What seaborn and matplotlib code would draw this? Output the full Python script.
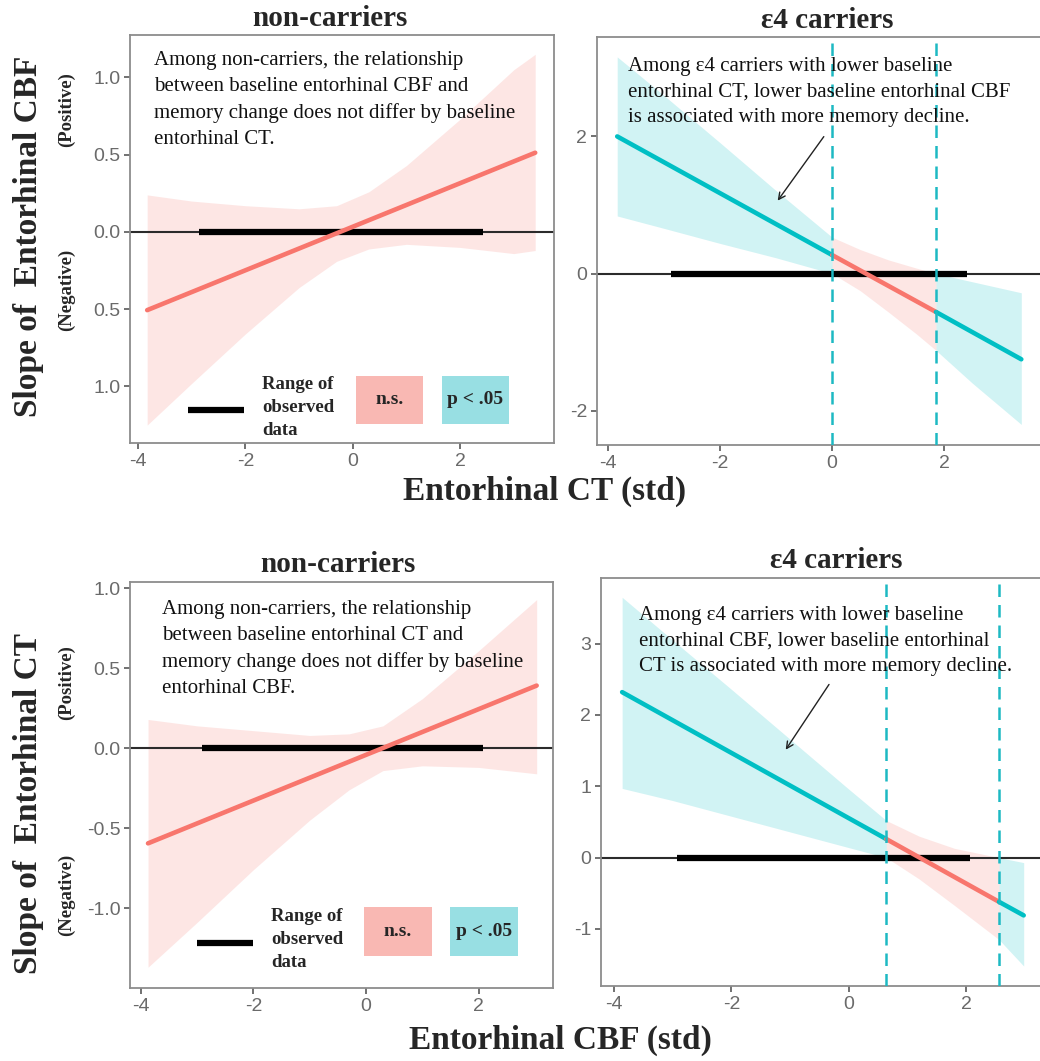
import matplotlib
matplotlib.use("Agg")
import matplotlib.pyplot as plt
import seaborn as sns
import numpy as np
from matplotlib.patches import Rectangle
from matplotlib.lines import Line2D

# ---------------- data ----------------
# Top-left: non-carriers, slope of entorhinal CBF vs entorhinal CT
tl_line_x = [-3.83, 3.40]
tl_line_y = [-0.506, 0.513]
tl_band_x = [-3.83, -3.0, -2.0, -1.0, -0.3, 0.3, 1.0, 2.0, 3.0, 3.40]
tl_band_lo = [-1.25, -0.98, -0.66, -0.36, -0.19, -0.11, -0.08, -0.10, -0.14, -0.12]
tl_band_hi = [0.24, 0.20, 0.17, 0.15, 0.17, 0.26, 0.43, 0.73, 1.05, 1.15]
tl_range = [-2.87, 2.43]
tl_jn = []
tl_yticks = [1.0, 0.5, 0.0, -0.5, -1.0]
tl_yticklabels = ["1.0", "0.5", "0.0", "0.5", "1.0"]

# Top-right: e4 carriers, slope of entorhinal CBF vs entorhinal CT
tr_line_x = [-3.83, 0.0, 1.85, 3.37]
tr_line_y = [2.00, 0.27, -0.56, -1.25]
tr_band_x = [-3.83, -3.0, -2.0, -1.0, 0.0, 0.5, 1.0, 1.5, 1.85, 2.5, 3.37]
tr_band_lo = [0.84, 0.66, 0.44, 0.23, 0.00, -0.25, -0.56, -0.88, -1.12, -1.60, -2.20]
tr_band_hi = [3.16, 2.60, 1.91, 1.21, 0.53, 0.35, 0.20, 0.08, 0.00, -0.12, -0.28]
tr_range = [-2.88, 2.40]
tr_jn = [0.0, 1.85]
tr_yticks = [2, 0, -2]
tr_yticklabels = ["2", "0", "-2"]

# Bottom-left: non-carriers, slope of entorhinal CT vs entorhinal CBF
bl_line_x = [-3.87, 3.03]
bl_line_y = [-0.595, 0.392]
bl_band_x = [-3.87, -3.0, -2.0, -1.0, -0.3, 0.3, 1.0, 2.0, 3.03]
bl_band_lo = [-1.37, -1.09, -0.76, -0.45, -0.26, -0.14, -0.11, -0.12, -0.16]
bl_band_hi = [0.18, 0.14, 0.11, 0.08, 0.09, 0.14, 0.31, 0.61, 0.93]
bl_range = [-2.91, 2.07]
bl_jn = []
bl_yticks = [1.0, 0.5, 0.0, -0.5, -1.0]
bl_yticklabels = ["1.0", "0.5", "0.0", "-0.5", "-1.0"]

# Bottom-right: e4 carriers, slope of entorhinal CT vs entorhinal CBF
br_line_x = [-3.86, 0.64, 2.56, 2.98]
br_line_y = [2.32, 0.26, -0.62, -0.81]
br_band_x = [-3.86, -3.0, -2.0, -1.0, 0.0, 0.64, 1.2, 1.8, 2.56, 2.98]
br_band_lo = [0.97, 0.80, 0.58, 0.36, 0.14, 0.00, -0.30, -0.67, -1.15, -1.52]
br_band_hi = [3.65, 3.05, 2.36, 1.66, 0.96, 0.52, 0.30, 0.13, 0.00, -0.07]
br_range = [-2.93, 2.06]
br_jn = [0.64, 2.56]
br_yticks = [3, 2, 1, 0, -1]
br_yticklabels = ["3", "2", "1", "0", "-1"]

xticks = [-4, -2, 0, 2]
xticklabels = ["-4", "-2", "0", "2"]

titles = ["non-carriers", "\u03b54 carriers", "non-carriers", "\u03b54 carriers"]
notes = [
    "Among non-carriers, the relationship\nbetween baseline entorhinal CBF and\nmemory change does not differ by baseline\nentorhinal CT.",
    "Among \u03b54 carriers with lower baseline\nentorhinal CT, lower baseline entorhinal CBF\nis associated with more memory decline.",
    "Among non-carriers, the relationship\nbetween baseline entorhinal CT and\nmemory change does not differ by baseline\nentorhinal CBF.",
    "Among \u03b54 carriers with lower baseline\nentorhinal CBF, lower baseline entorhinal\nCT is associated with more memory decline.",
]
ylabels = ["Slope of  Entorhinal CBF", "Slope of  Entorhinal CT"]
xlabels = ["Entorhinal CT (std)", "Entorhinal CBF (std)"]

# ---------------- style ----------------
sns.set_theme(style="white")
plt.rcParams["font.family"] = ["Liberation Sans", "DejaVu Sans"]
SERIF = ["Liberation Serif", "DejaVu Serif"]

RED = "#F8766D"
TEAL = "#00BFC4"
W, H = 1040, 1061

fig = plt.figure(figsize=(W / 100, H / 100), dpi=100)
fig.patch.set_facecolor("white")


def fx(px):
    return px / W


def fy(py):
    return 1 - py / H


def add_ax(left, right, top, bottom):
    return fig.add_axes([fx(left), fy(bottom), (right - left) / W, (bottom - top) / H])


panels = [
    dict(box=(130, 554, 35, 443), xlim=(-4.15, 3.75), ylim=(-1.366, 1.275),
         lx=tl_line_x, ly=tl_line_y, bx=tl_band_x, lo=tl_band_lo, hi=tl_band_hi,
         rng=tl_range, jn=tl_jn, yt=tl_yticks, ytl=tl_yticklabels),
    dict(box=(597, 1046, 37, 445), xlim=(-4.19, 3.81), ylim=(-2.50, 3.45),
         lx=tr_line_x, ly=tr_line_y, bx=tr_band_x, lo=tr_band_lo, hi=tr_band_hi,
         rng=tr_range, jn=tr_jn, yt=tr_yticks, ytl=tr_yticklabels),
    dict(box=(130, 553, 582, 988), xlim=(-4.19, 3.32), ylim=(-1.50, 1.04),
         lx=bl_line_x, ly=bl_line_y, bx=bl_band_x, lo=bl_band_lo, hi=bl_band_hi,
         rng=bl_range, jn=bl_jn, yt=bl_yticks, ytl=bl_yticklabels),
    dict(box=(601, 1046, 578, 986), xlim=(-4.22, 3.36), ylim=(-1.80, 3.92),
         lx=br_line_x, ly=br_line_y, bx=br_band_x, lo=br_band_lo, hi=br_band_hi,
         rng=br_range, jn=br_jn, yt=br_yticks, ytl=br_yticklabels),
]

axes = []
for p in panels:
    ax = add_ax(*p["box"])
    axes.append(ax)
    bx = np.array(p["bx"])
    lo = np.array(p["lo"])
    hi = np.array(p["hi"])
    lx = np.array(p["lx"])
    ly = np.array(p["ly"])
    xmin, xmax = bx.min(), bx.max()
    if p["jn"]:
        a, b = p["jn"]
        segs = [(xmin, a, TEAL), (a, b, RED), (b, xmax, TEAL)]
    else:
        segs = [(xmin, xmax, RED)]
    for s0, s1, c in segs:
        m = (bx >= s0 - 1e-9) & (bx <= s1 + 1e-9)
        ax.fill_between(bx, lo, hi, where=m, color=c, alpha=0.18, lw=0, zorder=1)
    ax.axhline(0, color="#2b2b2b", lw=1.5, zorder=2)
    ax.plot(p["rng"], [0, 0], color="black", lw=4.5, solid_capstyle="butt", zorder=3)
    for s0, s1, c in segs:
        m = (lx >= s0 - 1e-9) & (lx <= s1 + 1e-9)
        sns.lineplot(x=lx[m], y=ly[m], ax=ax, color=c, linewidth=3.3, zorder=4)
    for v in p["jn"]:
        ax.axvline(v, color="#1DB9C3", lw=1.8, ls=(0, (5, 3.2)), zorder=5)
    ax.set_xlim(*p["xlim"])
    ax.set_ylim(*p["ylim"])
    ax.set_xticks(xticks)
    ax.set_xticklabels(xticklabels)
    ax.set_yticks(p["yt"])
    ax.set_yticklabels(p["ytl"])
    ax.tick_params(bottom=True, left=True, direction="out", length=4, width=1.3,
                   color="#666666", labelcolor="#6a6a6a", labelsize=14, pad=3)
    for sp in ax.spines.values():
        sp.set_color("#8c8c8c")
        sp.set_linewidth(1.3)
    ax.set_xlabel("")
    ax.set_ylabel("")
    ax.grid(False)

# arrows
axes[1].annotate("", xy=(-1.0, 1.03), xytext=(-0.12, 2.03),
                 arrowprops=dict(arrowstyle="->", color="#222222", lw=1.0, mutation_scale=12))
axes[3].annotate("", xy=(-1.10, 1.48), xytext=(-0.31, 2.46),
                 arrowprops=dict(arrowstyle="->", color="#222222", lw=1.0, mutation_scale=12))

# titles
for (cx, cy), t in zip([(330, 19), (827, 20), (338, 565), (836, 560)], titles):
    fig.text(fx(cx), fy(cy), t, ha="center", va="center", fontsize=21,
             fontweight="bold", family=SERIF)

# notes (top of first line given)
for (lx0, ty0), t in zip([(154, 51), (628, 57), (162, 600), (639, 606)], notes):
    fig.text(fx(lx0), fy(ty0), t, ha="left", va="top", fontsize=15,
             family=SERIF, linespacing=1.48, color="#111111")

# y labels
for (cy, py, ny), t in zip([(236, 110, 290), (803, 683, 895)], ylabels):
    fig.text(fx(29), fy(cy), t, rotation=90, ha="center", va="center",
             fontsize=24, fontweight="bold", family=SERIF)
    fig.text(fx(66), fy(py), "(Positive)", rotation=90, ha="center", va="center",
             fontsize=13.5, fontweight="bold", family=SERIF)
    fig.text(fx(66), fy(ny), "(Negative)", rotation=90, ha="center", va="center",
             fontsize=13.5, fontweight="bold", family=SERIF)

# x labels
for (cx, cy), t in zip([(545, 491), (560, 1040)], xlabels):
    fig.text(fx(cx), fy(cy), t, ha="center", va="center", fontsize=24,
             fontweight="bold", family=SERIF)

# legends (inside the non-carrier panels)
for (l0, l1, ly), (tx, ty), (pb0, pb1, qb0, qb1, by0, by1) in [
    ((188, 244, 410), (262, 376), (356, 423, 442, 509, 376, 424)),
    ((197, 253, 943), (271, 908), (364, 432, 450, 518, 907, 956)),
]:
    fig.add_artist(Line2D([fx(l0), fx(l1)], [fy(ly), fy(ly)], lw=4.5, color="black",
                          solid_capstyle="butt", transform=fig.transFigure))
    fig.text(fx(tx), fy(ty), "Range of\nobserved\ndata", ha="left", va="top",
             fontsize=13.5, fontweight="bold", family=SERIF, linespacing=1.45)
    fig.add_artist(Rectangle((fx(pb0), fy(by1)), (pb1 - pb0) / W, (by1 - by0) / H,
                             transform=fig.transFigure, color="#F9B8B3", lw=0))
    fig.add_artist(Rectangle((fx(qb0), fy(by1)), (qb1 - qb0) / W, (by1 - by0) / H,
                             transform=fig.transFigure, color="#98DFE3", lw=0))
    fig.text(fx((pb0 + pb1) / 2), fy((by0 + by1) / 2), "n.s.", ha="center", va="center",
             fontsize=14, fontweight="bold", family=SERIF)
    fig.text(fx((qb0 + qb1) / 2), fy((by0 + by1) / 2), "p < .05", ha="center", va="center",
             fontsize=14, fontweight="bold", family=SERIF)

fig.savefig("out.png", dpi=100, facecolor="white")
